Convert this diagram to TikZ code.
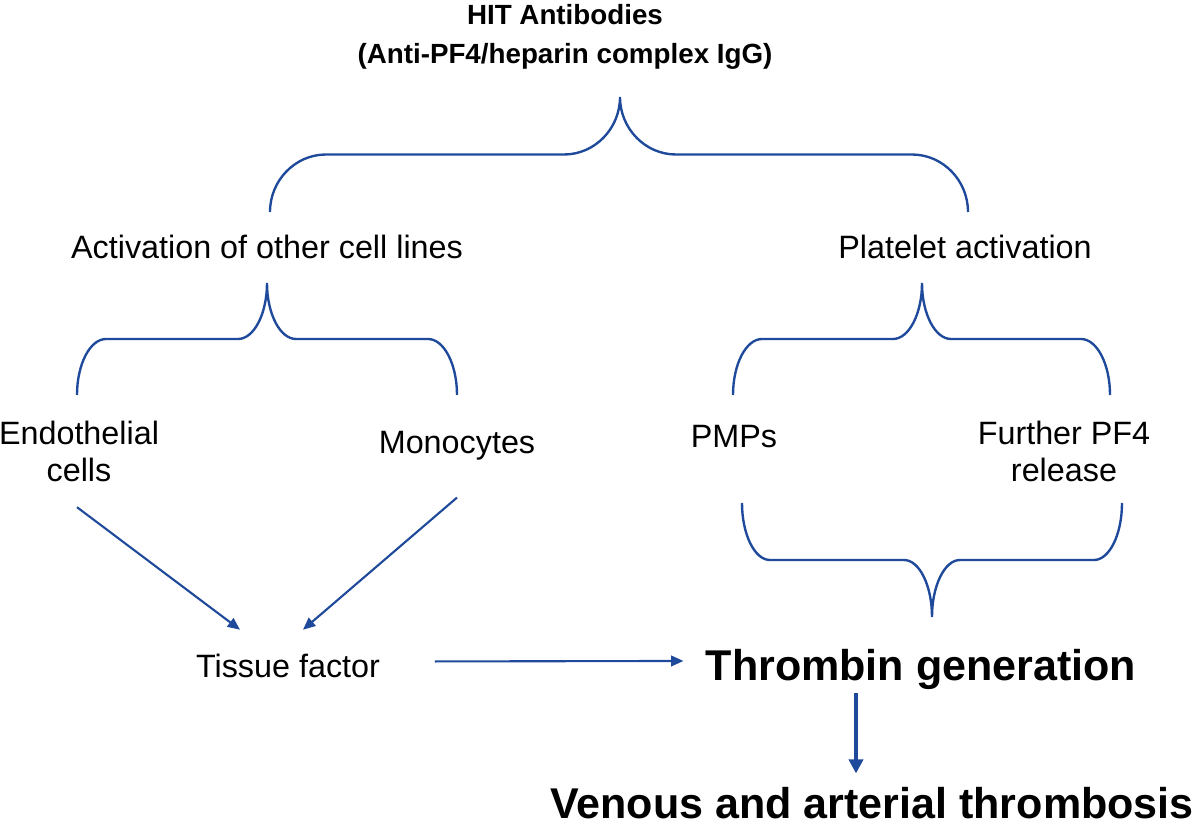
\documentclass[tikz,border=0pt]{standalone}
\usepackage{fontspec}
\setmainfont{Liberation Sans}
\usetikzlibrary{arrows.meta,positioning}
\definecolor{hitblue}{RGB}{31,73,154}
\tikzset{
    %Define standard arrow tip
    >={Triangle[length=7pt,width=6pt]},
    %Define style for text
    plain/.style={
           inner sep=2pt,
           font=\fontsize{18.4}{21}\selectfont,
           align=center},
    title/.style={
           inner sep=2pt,
           font=\fontsize{15.8}{22}\selectfont\bfseries,
           align=center},
    outcome/.style={
           inner sep=0pt,
           font=\fontsize{24.5}{29}\selectfont\bfseries},
    % Define brace and arrow style
    curly/.style={
           draw=hitblue,
           line width=1.35pt},
    pil/.style={
           ->,
           draw=hitblue,
           line width=1.2pt},
    fatpil/.style={
           -{Triangle[length=8pt,width=8pt]},
           draw=hitblue,
           line width=2.3pt}
}
% left x, right x, tip x, end y, tip y, corner
\newcommand{\curlybrace}[6]{%
  \pgfmathsetmacro\bracemid{((#4)+(#5))/2}
  \draw[curly] (#1,#4) .. controls (#1,{(#4)+0.55*(\bracemid-(#4))}) and ({#1+0.45*#6},\bracemid) .. ({#1+#6},\bracemid)
     -- ({#3-#6},\bracemid) .. controls ({#3-0.45*#6},\bracemid) and (#3,{(#5)+0.55*(\bracemid-(#5))}) .. (#3,#5)
     .. controls (#3,{(#5)+0.55*(\bracemid-(#5))}) and ({#3+0.45*#6},\bracemid) .. ({#3+#6},\bracemid)
     -- ({#2-#6},\bracemid) .. controls ({#2-0.45*#6},\bracemid) and (#2,{(#4)+0.55*(\bracemid-(#4))}) .. (#2,#4);
}
\begin{document}
\begin{tikzpicture}[x=0.02cm,y=-0.02cm]
\useasboundingbox (0,0) rectangle (1200,827);

 %nodes
\node[title] (hit) at (565,37) {HIT Antibodies\\(Anti-PF4/heparin complex IgG)};
\node[plain, anchor=base] (other) at (267,259) {Activation of other cell lines};
\node[plain, anchor=base] (platelet) at (965,259) {Platelet activation};
\node[plain] (endo) at (79,451) {Endothelial\\cells};
\node[plain, anchor=base] (mono) at (457,453) {Monocytes};
\node[plain, anchor=base] (pmp) at (734,447) {PMPs};
\node[plain] (pf4) at (1064,451) {Further PF4\\release};
\node[plain, anchor=base] (tissue) at (288,677) {Tissue factor};
\node[outcome, anchor=base] (thrombin) at (921,680) {Thrombin generation};
\node[outcome, anchor=base] (venous) at (872,818) {Venous and arterial thrombosis};

 %braces
\curlybrace{270}{968}{620}{212}{97}{56}
\curlybrace{77}{457}{267}{395}{283}{29}
\curlybrace{733}{1110}{922}{395}{283}{29}
\curlybrace{742}{1122}{932}{503}{617}{28}

 %arrows
\draw[pil] ([shift={(-2,22)}]endo.south) -- ([shift={(-48,-20)}]tissue.north);
\draw[pil] ([shift={(0,34)}]mono.south) -- ([shift={(15,-20)}]tissue.north);
\draw[pil] ([shift={(51,-4)}]tissue.east) -- ([shift={(-22,-8)}]thrombin.west);
\draw[fatpil] ([shift={(-65,4)}]thrombin.south) -- ([shift={(-16,-13)}]venous.north);
\end{tikzpicture}
\end{document}
